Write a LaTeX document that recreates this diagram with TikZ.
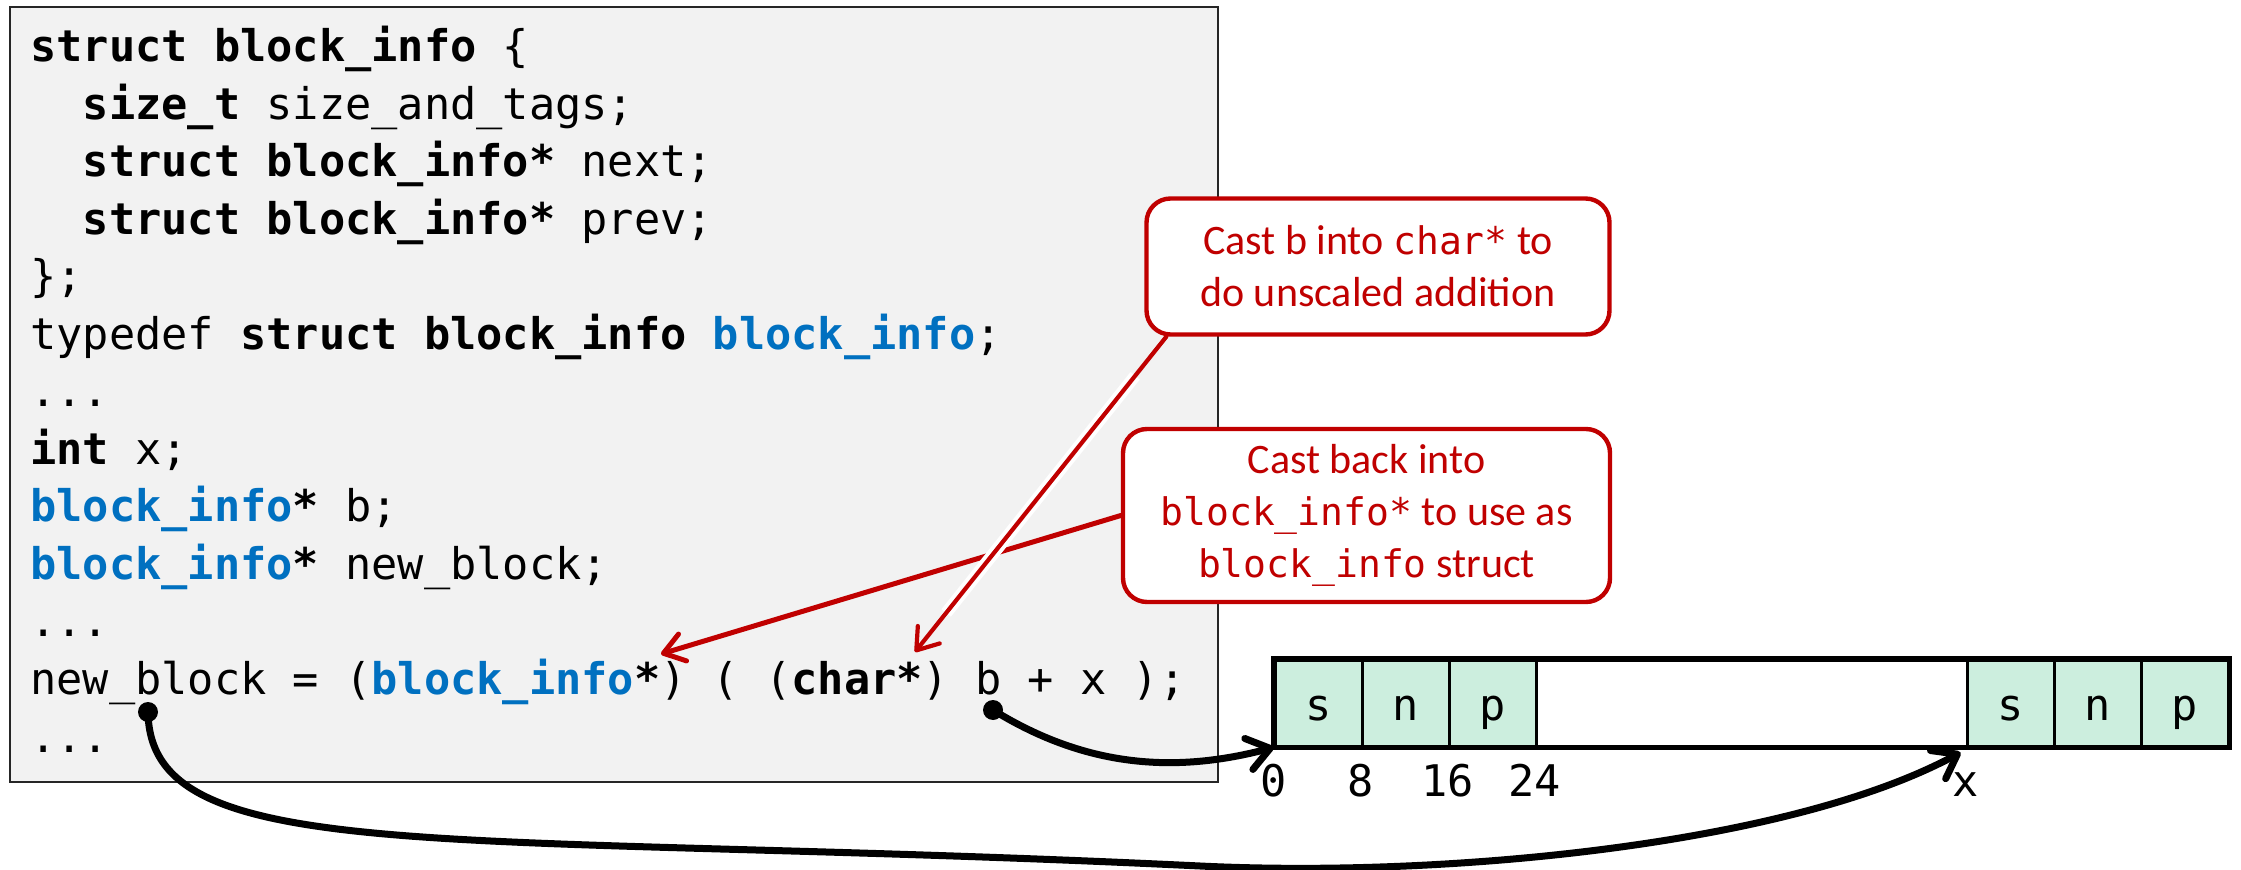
\documentclass[tikz,border=0pt]{standalone}
\usepackage{fontspec}
\setmainfont{Carlito}
\newfontfamily\codefont{DejaVu Sans Mono}
\usetikzlibrary{arrows.meta,calc}
\definecolor{cred}{HTML}{C00000}
\definecolor{cblue}{HTML}{0070C0}
\definecolor{cellgreen}{HTML}{CCEEDE}
\definecolor{boxgray}{HTML}{F2F2F2}
\newcommand\codesize{\fontsize{21.8pt}{28.75pt}\selectfont}
\newcommand\callmono{\codefont\fontsize{19pt}{26pt}\selectfont}
\newcommand\bi{\textcolor{cblue}{\textbf{block\_info}}}

\begin{document}
\begin{tikzpicture}[x=0.5pt,y=-0.5pt,
  codebox/.style={fill=boxgray,draw=black!85,line width=1pt},
  codeline/.style={anchor=base west,inner sep=0pt,font=\codefont\codesize},
  cell/.style={draw,line width=1.5pt,fill=cellgreen,minimum width=43.5pt,
    minimum height=43pt,inner sep=0pt,text height=17pt,text depth=0pt,
    font=\codefont\codesize},
  gapcell/.style={cell,fill=white,minimum width=215.5pt},
  offset/.style={anchor=base,inner sep=0pt,font=\codefont\codesize},
  callout/.style={draw=cred,line width=2.2pt,rounded corners=12pt,fill=white,
    text=cred,align=center,inner sep=0pt,font=\fontsize{21pt}{26pt}\selectfont},
  redarr/.style={draw=cred,line cap=round,
    -{Straight Barb[round,length=10pt,width=14pt]}},
  halo/.style={draw=white,line width=6pt,shorten <=25pt,shorten >=25pt},
  blackarr/.style={draw=black,line width=3.5pt,line cap=round,
    -{Straight Barb[round,length=11pt,width=16pt]}},
]
\useasboundingbox (0,0) rectangle (2241,870);

% code listing
\path[codebox] (10,7) rectangle (1218,782);
\node[codeline] (l1)  at (30,62)    {\textbf{struct block\_info} \{};
\node[codeline] (l2)  at (30,119.5) {\phantom{xx}\textbf{size\_t} size\_and\_tags;};
\node[codeline] (l3)  at (30,177)   {\phantom{xx}\textbf{struct block\_info*} next;};
\node[codeline] (l4)  at (30,234.5) {\phantom{xx}\textbf{struct block\_info*} prev;};
\node[codeline] (l5)  at (30,292)   {\};};
\node[codeline] (l6)  at (30,349.5) {typedef \textbf{struct block\_info} \bi;};
\node[codeline] (l7)  at (30,407)   {...};
\node[codeline] (l8)  at (30,464.5) {\textbf{int} x;};
\node[codeline] (l9)  at (30,522)   {\bi\textbf{*} b;};
\node[codeline] (l10) at (30,579.5) {\bi\textbf{*} new\_block;};
\node[codeline] (l11) at (30,637)   {...};
\node[codeline] (l12) at (30,694.5) {new\_block = (\bi\textbf{*}) ( (\textbf{char*}) b + x );};
\node[codeline] (l13) at (30,752)   {...};

% memory layout
\node[cell] (s1) at (1318.5,703) {s};
\node[cell] (n1) at (1405.5,703) {n};
\node[cell] (p1) at (1492.5,703) {p};
\node[gapcell] (mid) at (1751.5,703) {};
\node[cell] (s2) at (2010.5,703) {s};
\node[cell] (n2) at (2097.5,703) {n};
\node[cell] (p2) at (2184.5,703) {p};
\draw[line width=2.5pt] (s1.north west) rectangle (p2.south east);
\node[offset] (o0)  at ($(s1.south west)+(0,49)$) {0};
\node[offset] (o8)  at ($(n1.south west)+(0,49)$) {8};
\node[offset] (o16) at ($(p1.south west)+(0,49)$) {16};
\node[offset] (o24) at ($(mid.south west)+(0,49)$) {24};
\node[offset] (ox)  at ($(s2.south west)+(0,49)$) {x};

% callouts
\node[callout,minimum width=231.5pt,minimum height=68pt] (c1) at (1378,266.5)
  {Cast b into {\callmono char*} to\\do unscaled addition};
\node[callout,minimum width=243.5pt,minimum height=86.5pt] (c2) at (1366.5,515.5)
  {Cast back into\\{\callmono block\_info*} to use as\\{\callmono block\_info} struct};

\coordinate (tipA) at (915,652);
\coordinate (tipB) at (661,654);
\draw[redarr,line width=2.5pt] (c2.west) -- (tipB);
\draw[halo] ($(c1.south west)+(22,0)$) -- (tipA);
\draw[redarr,line width=2.1pt] ($(c1.south west)+(22,0)$) -- (tipA);

% pointer arrows
\coordinate (bdot) at (993,710);
\coordinate (nbdot) at (148,712);
\coordinate (xtip) at ($(s2.south west)+(-5,5)$);
\fill (bdot) circle (5pt);
\fill (nbdot) circle (5pt);
\draw[blackarr] (bdot) .. controls (1090,770) and (1180,772) .. (s1.south west);
\draw[blackarr] (nbdot) .. controls (150,870) and (450,830) .. (1200,866)
  .. controls (1450,878) and (1791,844) .. (xtip);
\end{tikzpicture}
\end{document}
